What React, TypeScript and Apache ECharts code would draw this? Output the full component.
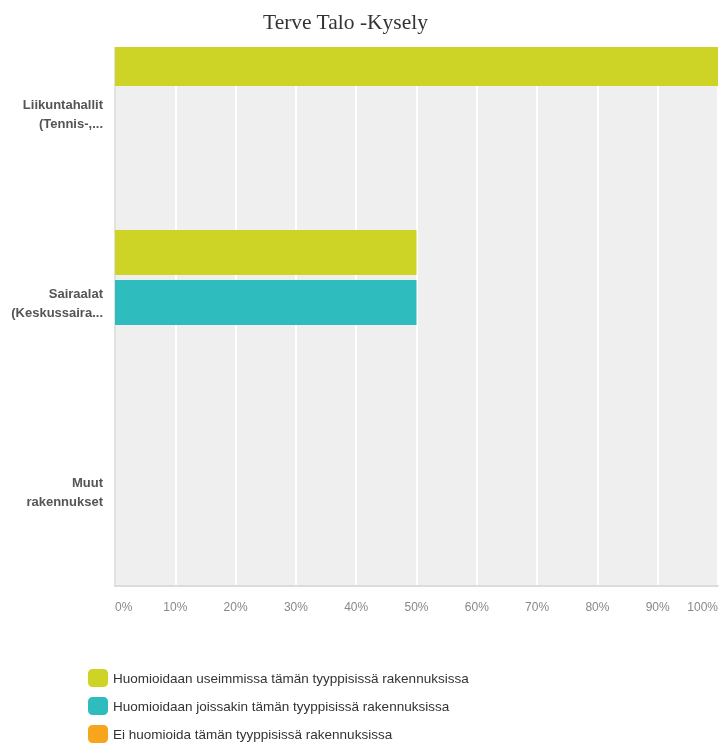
import React, { useEffect, useRef } from "react";
import * as echarts from "echarts";

const categories = ["Liikuntahallit\n(Tennis-,...", "Sairaalat\n(Keskussaira...", "Muut\nrakennukset"];
const seriesNames = [
  "Huomioidaan useimmissa tämän tyyppisissä rakennuksissa",
  "Huomioidaan joissakin tämän tyyppisissä rakennuksissa",
  "Ei huomioida tämän tyyppisissä rakennuksissa",
];
const mostValues = [100, 50, 0];
const someValues = [0, 50, 0];
const noneValues = [0, 0, 0];
const colors = ["#cdd426", "#2fbcbf", "#f7a51c"];

export default function App() {
  const ref = useRef<HTMLDivElement>(null);
  useEffect(() => {
    if (!ref.current) return;
    const chart = echarts.init(ref.current, null, { renderer: "svg" });
    const data = [mostValues, someValues, noneValues];
    chart.setOption({
      animation: false,
      color: colors,
      title: {
        text: "Terve Talo -Kysely",
        left: 258,
        top: 6,
        z: 20,
        textStyle: { fontFamily: "Liberation Serif", fontSize: 21.5, fontWeight: "normal", color: "#333" },
      },
      graphic: [
        { type: "rect", left: 0, top: 0, z: 10, shape: { x: 0, y: 0, width: 722, height: 47 }, style: { fill: "#ffffff" } },
      ],
      grid: {
        left: 115,
        top: 19,
        width: 603,
        height: 567,
        show: true,
        backgroundColor: "#efefef",
        borderWidth: 0,
        containLabel: false,
      },
      legend: {
        orient: "vertical",
        left: 88,
        top: 669,
        height: 78,
        padding: 0,
        itemWidth: 20,
        itemHeight: 18,
        itemGap: 10,
        icon: "roundRect",
        textStyle: { fontFamily: "Liberation Sans", fontSize: 13.5, color: "#333" },
        data: seriesNames,
      },
      xAxis: {
        type: "value",
        min: 0,
        max: 100,
        interval: 10,
        axisLine: { show: true, lineStyle: { color: "#dcdcdc", width: 2 } },
        axisTick: { show: false },
        splitLine: { show: true, lineStyle: { color: "#ffffff", width: 2 } },
        axisLabel: {
          formatter: "{value}%",
          color: "#888",
          fontFamily: "Liberation Sans",
          fontSize: 12,
          margin: 15,
          alignMinLabel: "left",
          alignMaxLabel: "right",
        },
      },
      yAxis: {
        type: "category",
        inverse: true,
        data: categories,
        axisLine: { show: true, lineStyle: { color: "#e2e2e2", width: 2 } },
        axisTick: { show: false },
        axisLabel: {
          color: "#555",
          fontFamily: "Liberation Sans",
          fontWeight: "bold",
          fontSize: 13,
          lineHeight: 19,
          margin: 12,
          align: "right",
        },
      },
      series: seriesNames.map((name, i) => ({
        name,
        type: "bar",
        data: data[i],
        barWidth: 45,
        barGap: "11%",
        itemStyle: { color: colors[i] },
      })),
    });
    return () => chart.dispose();
  }, []);
  return <div ref={ref} style={{ position: "fixed", left: 0, top: 0, width: 722, height: 747 }} />;
}
